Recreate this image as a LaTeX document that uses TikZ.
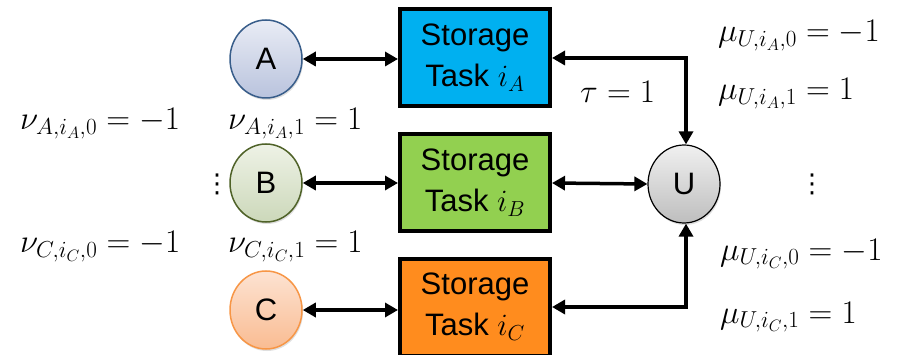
\RequirePackage{fix-cm}
\documentclass[tikz,border=0pt]{standalone}
\usepackage{fontspec}
\setmainfont{Liberation Sans}
\newfontfamily\dejavu{DejaVu Sans}
\usetikzlibrary{arrows.meta,shapes.geometric,shadows}
\definecolor{aborder}{HTML}{385D8A}
\definecolor{atop}{HTML}{E9ECF5}
\definecolor{abot}{HTML}{B9C3DD}
\definecolor{bborder}{HTML}{4F6228}
\definecolor{btop}{HTML}{EEF2E6}
\definecolor{bbot}{HTML}{CCD8BA}
\definecolor{cborder}{HTML}{F79646}
\definecolor{ctop}{HTML}{FDE3D2}
\definecolor{cbot}{HTML}{F9BC92}
\definecolor{utop}{HTML}{F0F0F0}
\definecolor{ubot}{HTML}{BEBEBE}
\definecolor{boxa}{HTML}{00B0F0}
\definecolor{boxb}{HTML}{92D050}
\definecolor{boxc}{HTML}{FF8C1E}
\tikzset{
  agent/.style={ellipse, minimum width=72pt, minimum height=78pt, line width=1.5pt, inner sep=0pt,
    font=\fontsize{31}{36}\selectfont, drop shadow={shadow xshift=1pt, shadow yshift=-2pt, opacity=0.25}},
  taskbox/.style={rectangle, draw=black, line width=4pt, minimum width=150pt, minimum height=97pt,
    align=center, font=\fontsize{31}{41}\selectfont},
  link/.style={line width=3.5pt, {Triangle[length=13pt,width=14pt]}-{Triangle[length=13pt,width=14pt]}},
  eq/.style={font=\fontsize{33}{38}\selectfont, inner sep=0pt, anchor=base west},
  dots/.style={font=\dejavu\fontsize{26}{30}\selectfont, inner sep=0pt}
}
\begin{document}
\begin{tikzpicture}[x=1pt,y=-1pt]
\useasboundingbox (0,0) rectangle (912,355);
% agents
\node[agent, draw=aborder, top color=atop, bottom color=abot] (A) at (266,59) {A};
\node[agent, draw=bborder, top color=btop, bottom color=bbot] (B) at (266,183) {B};
\node[agent, draw=cborder, top color=ctop, bottom color=cbot] (C) at (266,310) {C};
\node[agent, draw=black, line width=1.2pt, top color=utop, bottom color=ubot] (U) at (684,184) {U};
% task boxes
\node[taskbox, fill=boxa] (TA) at (475,58) {Storage\\Task $i_A$};
\node[taskbox, fill=boxb] (TB) at (475,183) {Storage\\Task $i_B$};
\node[taskbox, fill=boxc] (TC) at (475,307) {Storage\\Task $i_C$};
% connectors
\draw[link] (A.east) -- (A.east -| TA.west);
\draw[link] (B.east) -- (TB.west);
\draw[link] (C.east) -- (C.east -| TC.west);
\draw[link] (TB.east) -- (U.west);
\coordinate (ka) at (686,58);
\coordinate (kc) at (686,307);
\draw[link] (TA.east |- ka) -- (ka) -- (ka |- U.north);
\draw[link] (TC.east |- kc) -- (kc) -- (kc |- U.south);
% labels
\node[eq] (tau) at (580,103) {$\tau = 1$};
\node[eq] (m1) at (718,42) {$\mu_{U,i_A,0} = -1$};
\node[eq] (m2) at (718,100) {$\mu_{U,i_A,1} = 1$};
\node[eq] (m3) at (720,260) {$\mu_{U,i_C,0} = -1$};
\node[eq] (m4) at (720,323) {$\mu_{U,i_C,1} = 1$};
\node[dots] (vd1) at (812,184) {⋮};
\node[eq] (n1) at (20,130) {$\nu_{A,i_A,0} = -1$};
\node[eq] (n2) at (228,130) {$\nu_{A,i_A,1} = 1$};
\node[eq] (n3) at (20,253) {$\nu_{C,i_C,0} = -1$};
\node[eq] (n4) at (228,253) {$\nu_{C,i_C,1} = 1$};
\node[dots] (vd2) at (217,184) {⋮};
\end{tikzpicture}
\end{document}
